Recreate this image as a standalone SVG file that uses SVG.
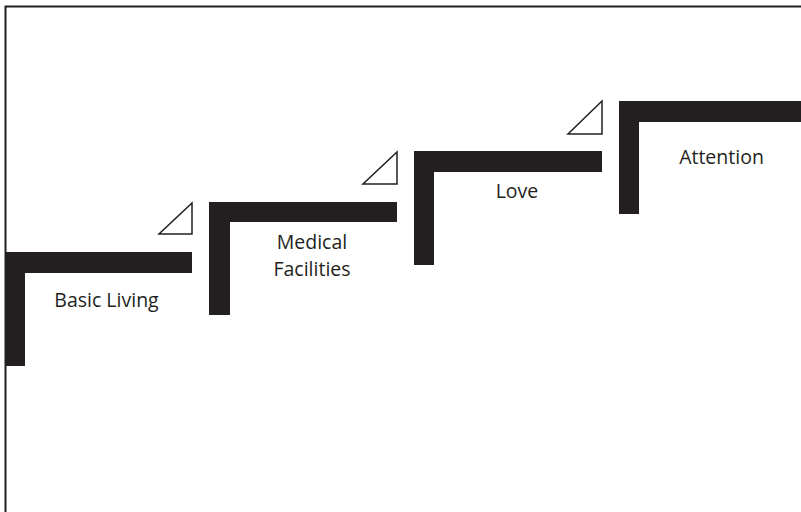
<svg xmlns="http://www.w3.org/2000/svg" width="801" height="512" viewBox="0 0 801 512">
<style>
.bar{fill:#231f20}
.tri{fill:#fff;stroke:#231f20;stroke-width:1.5}
.lbl{font-family:"Open Sans","Liberation Sans",sans-serif;font-size:19.5px;fill:#231f20;text-anchor:middle}
</style>
<rect width="801" height="512" fill="#fff"/>
<path d="M5.5,512 V6.5 H801" fill="none" stroke="#231f20" stroke-width="2"/>
<g id="step-basic-living">
<path class="bar" d="M6,252 H192 V273 H25 V366 H6 Z"/>
<polygon class="tri" points="159,234 192,234 192,203"/>
<text class="lbl" x="106.5" y="307">Basic Living</text>
</g>
<g id="step-medical">
<path class="bar" d="M209,202 H397 V222 H230 V315 H209 Z"/>
<polygon class="tri" points="363,184 397,184 397,152"/>
<text class="lbl" x="312" y="249">Medical</text>
<text class="lbl" x="312" y="276">Facilities</text>
</g>
<g id="step-love">
<path class="bar" d="M414,151 H602 V172 H434 V265 H414 Z"/>
<polygon class="tri" points="568,134 602,134 602,101"/>
<text class="lbl" x="517" y="198">Love</text>
</g>
<g id="step-attention">
<path class="bar" d="M619,101 H801 V122 H639 V214 H619 Z"/>
<text class="lbl" x="721.5" y="164">Attention</text>
</g>
<g id="connectors"></g>
</svg>
